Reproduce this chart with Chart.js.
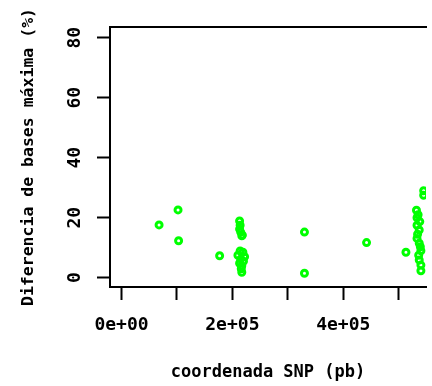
<!DOCTYPE html>
<html>
<head>
<meta charset="utf-8">
<script src="https://cdn.jsdelivr.net/npm/chart.js@4"></script>
<style>
    html, body { margin: 0; padding: 0; background: #fff; overflow: hidden; }
    #wrap { position: relative; width: 432px; height: 386px; }
</style>
</head>
<body>
<div id="wrap"><canvas id="snpChart"></canvas></div>
<script>
// posiciones SNP (pb) y diferencia de bases máxima (%)
const snpPos = [
    67800, 102000, 103000, 177000,
    213000, 214000, 213000, 215000, 218000, 217000,
    214000, 219000, 210000, 222000, 215000, 220000, 213000, 217000, 216000, 217000,
    330000, 330000, 442000, 513000,
    545000, 545000, 532000, 535000, 533000, 538000, 533000, 537000, 534000,
    533000, 537000, 539000, 540000, 536000, 537000, 540000, 540000
];
const maxDiff = [
    17.6, 22.6, 12.3, 7.3,
    18.9, 17.5, 16.2, 15.2, 14.2, 14.0,
    8.9, 8.5, 7.5, 7.0, 6.2, 5.5, 4.8, 4.0, 3.0, 1.8,
    15.2, 1.5, 11.7, 8.5,
    29.0, 27.5, 22.5, 21.0, 20.0, 18.7, 17.5, 15.9, 14.5,
    13.1, 11.5, 10.3, 9.0, 7.5, 5.9, 4.2, 2.3
];

const xTickValues = [0, 100000, 200000, 300000, 400000, 500000];
const xTickLabels = ['0e+00', '', '2e+05', '', '4e+05', ''];
const yTickValues = [0, 20, 40, 60, 80];
const yTickLabels = ['0', '20', '40', '60', '80'];

document.addEventListener('DOMContentLoaded', function() {
    const ctx = document.getElementById('snpChart').getContext('2d');
    const tickFont = { family: 'DejaVu Sans Mono', size: 18, weight: 'bold' };
    const titleFont = { family: 'DejaVu Sans Mono', size: 17, weight: 'bold' };

    new Chart(ctx, {
        type: 'scatter',
        data: {
            datasets: [{
                data: snpPos.map((x, i) => ({ x: x, y: maxDiff[i] })),
                borderColor: '#00ff00',
                backgroundColor: 'rgba(0,0,0,0)',
                borderWidth: 3,
                pointRadius: 3,
                pointHoverRadius: 3
            }]
        },
        options: {
            responsive: true,
            maintainAspectRatio: false,
            animation: false,
            layout: { padding: 0 },
            plugins: {
                legend: { display: false },
                tooltip: { enabled: false }
            },
            scales: {
                x: {
                    type: 'linear',
                    position: 'bottom',
                    min: -20710,
                    max: 549200,
                    afterBuildTicks: scale => { scale.ticks = xTickValues.map(v => ({ value: v })); },
                    afterFit: scale => { scale.height = 99; },
                    ticks: {
                        color: '#000',
                        font: tickFont,
                        padding: 15,
                        maxRotation: 0,
                        autoSkip: false,
                        callback: (value, index) => xTickLabels[index]
                    },
                    grid: {
                        drawOnChartArea: false,
                        drawTicks: true,
                        tickLength: 13,
                        tickWidth: 2,
                        tickColor: '#000'
                    },
                    border: { display: true, color: '#000', width: 2 },
                    title: {
                        display: true,
                        text: 'coordenada SNP (pb)',
                        color: '#000',
                        font: titleFont,
                        padding: { top: 0, bottom: 3 }
                    }
                },
                xTop: {
                    type: 'linear',
                    position: 'top',
                    min: -20710,
                    max: 549200,
                    afterFit: scale => { scale.height = 27; },
                    ticks: { display: false },
                    grid: { drawOnChartArea: false, drawTicks: false },
                    border: { display: true, color: '#000', width: 2 }
                },
                y: {
                    type: 'linear',
                    position: 'left',
                    min: -3.1,
                    max: 83.57,
                    afterBuildTicks: scale => { scale.ticks = yTickValues.map(v => ({ value: v })); },
                    afterFit: scale => { scale.width = 110; },
                    ticks: {
                        color: '#000',
                        font: tickFont,
                        padding: 11,
                        minRotation: 90,
                        maxRotation: 90,
                        crossAlign: 'center',
                        autoSkip: false,
                        callback: (value, index) => yTickLabels[index]
                    },
                    grid: {
                        drawOnChartArea: false,
                        drawTicks: true,
                        tickLength: 13,
                        tickWidth: 2,
                        tickColor: '#000'
                    },
                    border: { display: true, color: '#000', width: 2 },
                    title: {
                        display: true,
                        text: 'Diferencia de bases máxima (%)',
                        color: '#000',
                        font: { family: 'DejaVu Sans Mono', size: 16.5, weight: 'bold' },
                        padding: { top: 19, bottom: 0 }
                    }
                }
            }
        }
    });
});
</script>
</body>
</html>
